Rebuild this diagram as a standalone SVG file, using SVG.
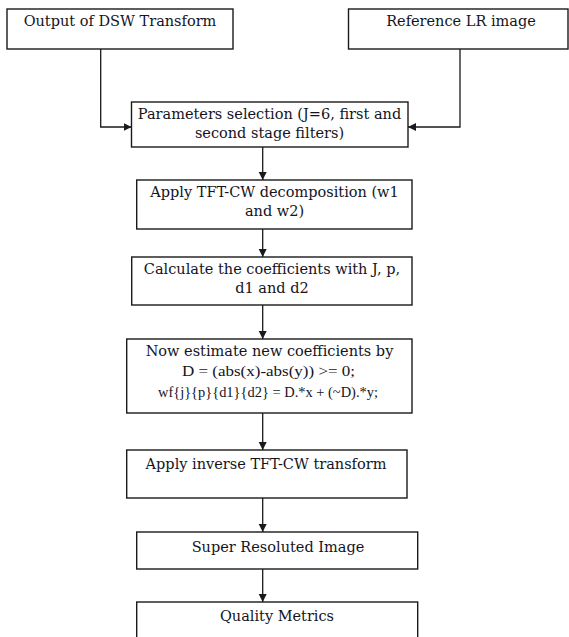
<svg xmlns="http://www.w3.org/2000/svg" width="569" height="637" viewBox="0 0 569 637">
<style>
.box{fill:#fff;stroke:#1a1a1a;stroke-width:1.4}
.t{font-family:"DejaVu Serif","Liberation Serif",serif;font-size:14.5px;fill:#14141e;text-anchor:middle}
.m{font-family:"Liberation Serif","DejaVu Serif",serif;font-size:15.5px;fill:#14141e;text-anchor:middle}
.c{fill:none;stroke:#1a1a1a;stroke-width:1.3}
</style>
<defs>
<marker id="ah" markerUnits="userSpaceOnUse" markerWidth="9" markerHeight="9" refX="8" refY="4" orient="auto">
<path d="M0,0 L8,4 L0,8 z" fill="#1a1a1a"/>
</marker>
</defs>
<rect width="569" height="637" fill="#fff"/>
<g id="connectors">
<path class="c" d="M100.7,49 V127 H131.5" marker-end="url(#ah)"/>
<path class="c" d="M460,49 V127 H408" marker-end="url(#ah)"/>
<path class="c" d="M262.7,147 V180" marker-end="url(#ah)"/>
<path class="c" d="M262.7,229 V257" marker-end="url(#ah)"/>
<path class="c" d="M262.7,305 V339" marker-end="url(#ah)"/>
<path class="c" d="M262.7,413 V450" marker-end="url(#ah)"/>
<path class="c" d="M262.7,498 V532" marker-end="url(#ah)"/>
<path class="c" d="M262.7,569 V602" marker-end="url(#ah)"/>
</g>
<g id="n1">
<rect class="box" x="7" y="9" width="226" height="40"/>
<text class="t" x="120" y="26">Output of DSW Transform</text>
</g>
<g id="n2">
<rect class="box" x="348.5" y="9" width="219.5" height="40"/>
<text class="t" x="461" y="26">Reference LR image</text>
</g>
<g id="n3">
<rect class="box" x="131.5" y="102" width="276.5" height="45"/>
<text class="t" x="269.5" y="119">Parameters selection (J=6, first and</text>
<text class="t" x="269.5" y="137.5">second stage filters)</text>
</g>
<g id="n4">
<rect class="box" x="136.7" y="180" width="275.3" height="49"/>
<text class="t" x="274.5" y="197">Apply TFT-CW decomposition (w1</text>
<text class="t" x="274.5" y="215.5">and w2)</text>
</g>
<g id="n5">
<rect class="box" x="131.7" y="257" width="280.3" height="48"/>
<text class="t" x="272" y="274">Calculate the coefficients with J, p,</text>
<text class="t" x="272" y="292.5">d1 and d2</text>
</g>
<g id="n6">
<rect class="box" x="126.7" y="339" width="285.3" height="74"/>
<text class="t" x="269.5" y="355.5">Now estimate new coefficients by</text>
<text class="m" x="268.5" y="376" textLength="173" lengthAdjust="spacingAndGlyphs">D = (abs(x)-abs(y)) &gt;= 0;</text>
<text class="m" x="268" y="396.5" textLength="220" lengthAdjust="spacingAndGlyphs">wf{j}{p}{d1}{d2} = D.*x + (~D).*y;</text>
</g>
<g id="n7">
<rect class="box" x="126.7" y="450" width="280.3" height="48"/>
<text class="t" x="266" y="468.5">Apply inverse TFT-CW transform</text>
</g>
<g id="n8">
<rect class="box" x="136.7" y="532" width="281" height="37"/>
<text class="t" x="278" y="552">Super Resoluted Image</text>
</g>
<g id="n9">
<rect class="box" x="136.7" y="602" width="281" height="50"/>
<text class="t" x="277" y="620.5">Quality Metrics</text>
</g>
</svg>
